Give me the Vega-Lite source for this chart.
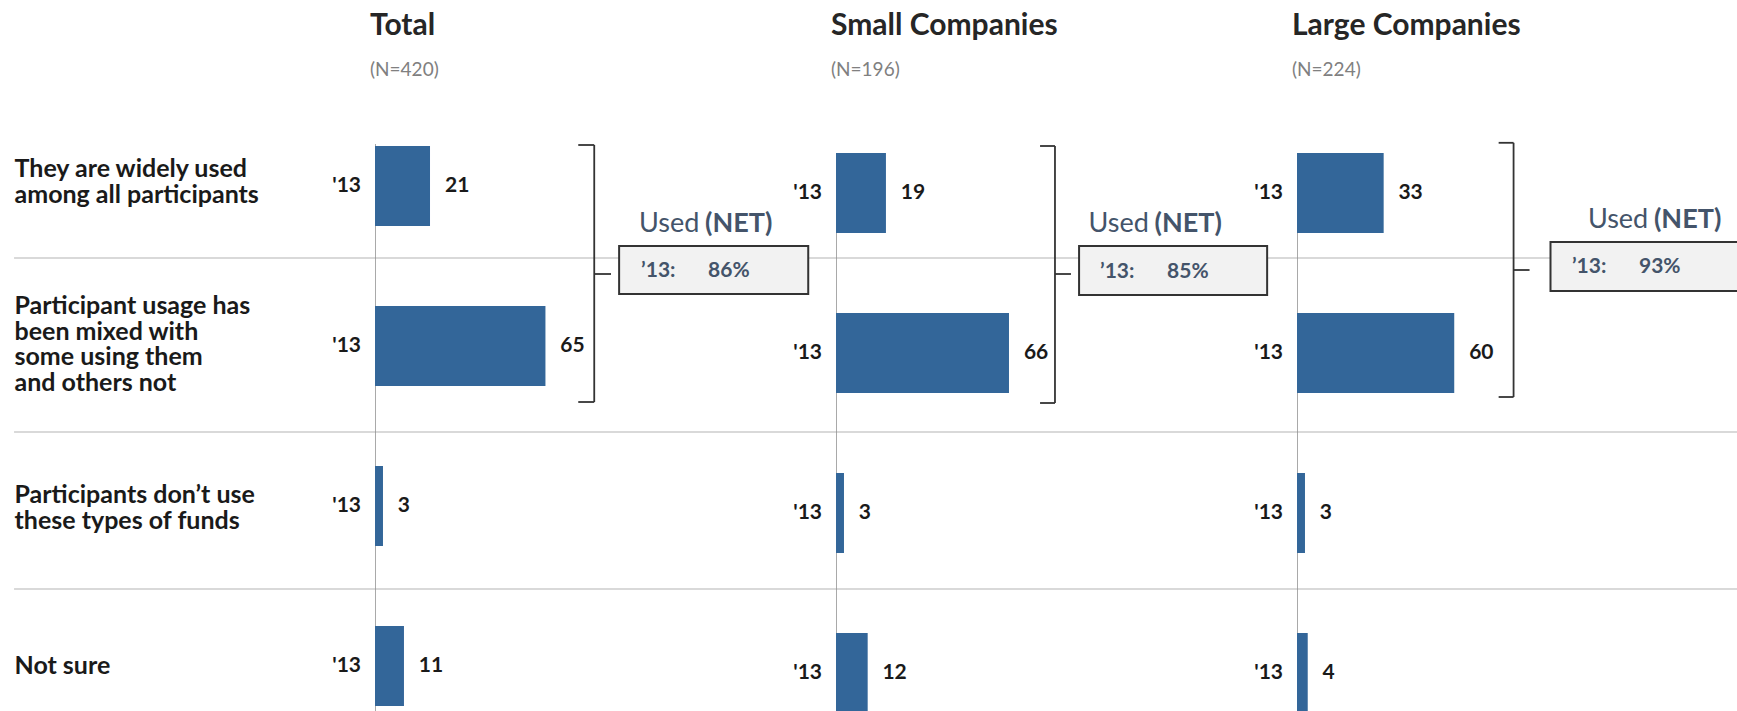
{
  "$schema": "https://vega.github.io/schema/vega-lite/v6.json",
  "background": "white",
  "autosize": {"type": "pad"},
  "padding": {"left": 13, "top": 11, "right": 0, "bottom": 0},
  "spacing": 0,
  "bounds": "flush",
  "config": {
    "view": {"stroke": null},
    "font": "Lato",
    "concat": {"spacing": 0},
    "title": {"anchor": "start", "frame": "group", "dx": -5, "fontSize": 30, "fontWeight": "bold", "color": "#262626", "subtitleFontSize": 19, "subtitleColor": "#808080", "subtitlePadding": 20, "offset": 26, "font": "Lato", "subtitleFont": "Lato"}
  },
  "datasets": {
    "bars": [
      {"panel": "Total", "label": "They are widely used|among all participants", "year": "'13", "value": 21},
      {"panel": "Total", "label": "Participant usage has|been mixed with|some using them|and others not", "year": "'13", "value": 65},
      {"panel": "Total", "label": "Participants don’t use|these types of funds", "year": "'13", "value": 3},
      {"panel": "Total", "label": "Not sure", "year": "'13", "value": 11},
      {"panel": "Small", "label": "They are widely used|among all participants", "year": "'13", "value": 19},
      {"panel": "Small", "label": "Participant usage has|been mixed with|some using them|and others not", "year": "'13", "value": 66},
      {"panel": "Small", "label": "Participants don’t use|these types of funds", "year": "'13", "value": 3},
      {"panel": "Small", "label": "Not sure", "year": "'13", "value": 12},
      {"panel": "Large", "label": "They are widely used|among all participants", "year": "'13", "value": 33},
      {"panel": "Large", "label": "Participant usage has|been mixed with|some using them|and others not", "year": "'13", "value": 60},
      {"panel": "Large", "label": "Participants don’t use|these types of funds", "year": "'13", "value": 3},
      {"panel": "Large", "label": "Not sure", "year": "'13", "value": 4}
    ],
    "nets": [
      {"panel": "Total", "year": "’13:", "net": "86%"},
      {"panel": "Small", "year": "’13:", "net": "85%"},
      {"panel": "Large", "year": "’13:", "net": "93%"}
    ]
  },
  "hconcat": [
    {
      "width": 461, "height": 605,
      "title": {"text": "Total", "subtitle": "(N=420)"},
      "layer": [
        {
          "data": {"name": "bars"},
          "transform": [{"filter": "datum.panel == 'Total'"}],
          "mark": {"type": "bar", "color": "#336699", "clip": true},
          "encoding": {
            "y": {"field": "label", "type": "nominal",
                  "scale": {"domain": ["They are widely used|among all participants", "Participant usage has|been mixed with|some using them|and others not", "Participants don’t use|these types of funds", "Not sure"], "paddingInner": 0.5, "paddingOuter": 0.140625, "align": 0.889},
                  "axis": {"title": null, "domain": false, "ticks": false, "grid": false, "labelPadding": 361, "labelAlign": "left", "labelBaseline": "middle", "labelExpr": "split(datum.label, '|')", "labelFontSize": 25, "labelFontWeight": "bold", "labelColor": "#1a1a1a", "labelLineHeight": 25.5, "labelLimit": 0, "labelFont": "Lato", "labelOverlap": false,
                           "labelOffset": {"condition": [{"test": "indexof(datum.label, 'usage') >= 0", "value": -40}, {"test": "indexof(datum.label, 'widely') >= 0", "value": -17}, {"test": "indexof(datum.label, 'funds') >= 0", "value": -11}], "value": 0}}},
            "x": {"field": "value", "type": "quantitative", "axis": null, "scale": {"domain": [0, 176], "nice": false, "zero": false}}
          }
        },
        {
          "data": {"name": "nets"},
          "transform": [{"filter": "datum.panel == 'Total'"}],
          "mark": {"type": "rule", "color": "#d9d9d9", "strokeWidth": 2},
          "encoding": {
            "y": {"datum": "Participant usage has|been mixed with|some using them|and others not", "type": "nominal", "bandPosition": -0.6},
            "x": {"datum": -137.8, "type": "quantitative", "axis": null},
            "x2": {"datum": 520.0}
          }
        },
        {
          "data": {"name": "nets"},
          "transform": [{"filter": "datum.panel == 'Total'"}],
          "mark": {"type": "rule", "color": "#d9d9d9", "strokeWidth": 2},
          "encoding": {
            "y": {"datum": "Participants don’t use|these types of funds", "type": "nominal", "bandPosition": -0.425},
            "x": {"datum": -137.8, "type": "quantitative", "axis": null},
            "x2": {"datum": 520.0}
          }
        },
        {
          "data": {"name": "nets"},
          "transform": [{"filter": "datum.panel == 'Total'"}],
          "mark": {"type": "rule", "color": "#d9d9d9", "strokeWidth": 2},
          "encoding": {
            "y": {"datum": "Not sure", "type": "nominal", "bandPosition": -0.4625},
            "x": {"datum": -137.8, "type": "quantitative", "axis": null},
            "x2": {"datum": 520.0}
          }
        },
        {
          "data": {"name": "nets"},
          "transform": [{"filter": "datum.panel == 'Total'"}],
          "mark": {"type": "rule", "color": "#8c8c8c", "strokeWidth": 1.5, "clip": true},
          "encoding": {
            "x": {"datum": 0, "type": "quantitative", "axis": null},
            "y": {"datum": "They are widely used|among all participants", "type": "nominal", "bandPosition": -0.025},
            "y2": {"datum": "Not sure", "bandPosition": 1.3}
          }
        },
        {
          "data": {"name": "bars"},
          "transform": [{"filter": "datum.panel == 'Total'"}],
          "mark": {"type": "bar", "color": "#336699", "clip": true},
          "encoding": {
            "y": {"field": "label", "type": "nominal"},
            "x": {"field": "value", "type": "quantitative", "axis": null}
          }
        },
        {
          "data": {"name": "bars"},
          "transform": [{"filter": "datum.panel == 'Total'"}],
          "mark": {"type": "text", "align": "left", "baseline": "middle", "dx": 15, "fontSize": 21, "fontWeight": "bold", "color": "#1a1a1a"},
          "encoding": {
            "y": {"field": "label", "type": "nominal"},
            "x": {"field": "value", "type": "quantitative", "axis": null},
            "text": {"field": "value", "type": "quantitative"}
          }
        },
        {
          "data": {"name": "bars"},
          "transform": [{"filter": "datum.panel == 'Total'"}],
          "mark": {"type": "text", "align": "right", "baseline": "middle", "dx": -14, "fontSize": 21, "fontWeight": "bold", "color": "#1a1a1a"},
          "encoding": {
            "y": {"field": "label", "type": "nominal"},
            "x": {"datum": 0, "type": "quantitative", "axis": null},
            "text": {"field": "year", "type": "nominal"}
          }
        },
        {
          "data": {"name": "nets"},
          "transform": [{"filter": "datum.panel == 'Total'"}],
          "mark": {"type": "rule", "color": "#333333", "strokeWidth": 1.8},
          "encoding": {
            "x": {"datum": 83.7, "type": "quantitative", "axis": null},
            "y": {"datum": "They are widely used|among all participants", "type": "nominal", "bandPosition": -0.0125},
            "y2": {"datum": "Participant usage has|been mixed with|some using them|and others not", "bandPosition": 1.2}
          }
        },
        {
          "data": {"name": "nets"},
          "transform": [{"filter": "datum.panel == 'Total'"}],
          "mark": {"type": "rule", "color": "#333333", "strokeWidth": 1.8},
          "encoding": {
            "x": {"datum": 77.6, "type": "quantitative", "axis": null},
            "x2": {"datum": 83.7},
            "y": {"datum": "They are widely used|among all participants", "type": "nominal", "bandPosition": -0.0125}
          }
        },
        {
          "data": {"name": "nets"},
          "transform": [{"filter": "datum.panel == 'Total'"}],
          "mark": {"type": "rule", "color": "#333333", "strokeWidth": 1.8},
          "encoding": {
            "x": {"datum": 77.6, "type": "quantitative", "axis": null},
            "x2": {"datum": 83.7},
            "y": {"datum": "Participant usage has|been mixed with|some using them|and others not", "type": "nominal", "bandPosition": 1.2}
          }
        },
        {
          "data": {"name": "nets"},
          "transform": [{"filter": "datum.panel == 'Total'"}],
          "mark": {"type": "rule", "color": "#333333", "strokeWidth": 1.8},
          "encoding": {
            "x": {"datum": 83.7, "type": "quantitative", "axis": null},
            "x2": {"datum": 90.1},
            "y": {"datum": "They are widely used|among all participants", "type": "nominal", "bandPosition": 1.6}
          }
        },
        {
          "data": {"name": "nets"},
          "transform": [{"filter": "datum.panel == 'Total'"}],
          "mark": {"type": "rect", "fill": "#f2f2f2", "stroke": "#333333", "strokeWidth": 2},
          "encoding": {
            "x": {"datum": 93.2, "type": "quantitative", "axis": null},
            "x2": {"datum": 165.4},
            "y": {"datum": "They are widely used|among all participants", "type": "nominal", "bandPosition": 1.25},
            "y2": {"datum": "They are widely used|among all participants", "bandPosition": 1.85}
          }
        },
        {
          "data": {"name": "nets"},
          "transform": [{"filter": "datum.panel == 'Total'"}],
          "mark": {"type": "text", "align": "left", "baseline": "middle", "fontSize": 27, "color": "#44546a"},
          "encoding": {
            "x": {"datum": 100.8, "type": "quantitative", "axis": null},
            "y": {"datum": "They are widely used|among all participants", "type": "nominal", "bandPosition": 0.975},
            "text": {"value": "Used"}
          }
        },
        {
          "data": {"name": "nets"},
          "transform": [{"filter": "datum.panel == 'Total'"}],
          "mark": {"type": "text", "align": "left", "baseline": "middle", "dx": 66, "fontSize": 27, "fontWeight": "bold", "color": "#44546a"},
          "encoding": {
            "x": {"datum": 100.8, "type": "quantitative", "axis": null},
            "y": {"datum": "They are widely used|among all participants", "type": "nominal", "bandPosition": 0.975},
            "text": {"value": "(NET)"}
          }
        },
        {
          "data": {"name": "nets"},
          "transform": [{"filter": "datum.panel == 'Total'"}],
          "mark": {"type": "text", "align": "left", "baseline": "middle", "fontSize": 21, "fontWeight": "bold", "color": "#44546a"},
          "encoding": {
            "x": {"datum": 101.6, "type": "quantitative", "axis": null},
            "y": {"datum": "They are widely used|among all participants", "type": "nominal", "bandPosition": 1.5625},
            "text": {"field": "year", "type": "nominal"}
          }
        },
        {
          "data": {"name": "nets"},
          "transform": [{"filter": "datum.panel == 'Total'"}],
          "mark": {"type": "text", "align": "left", "baseline": "middle", "dx": 67, "fontSize": 21, "fontWeight": "bold", "color": "#44546a"},
          "encoding": {
            "x": {"datum": 101.6, "type": "quantitative", "axis": null},
            "y": {"datum": "They are widely used|among all participants", "type": "nominal", "bandPosition": 1.5625},
            "text": {"field": "net", "type": "nominal"}
          }
        }
      ]
    },
    {
      "width": 461, "height": 605,
      "title": {"text": "Small Companies", "subtitle": "(N=196)"},
      "layer": [
        {
          "data": {"name": "bars"},
          "transform": [{"filter": "datum.panel == 'Small'"}],
          "mark": {"type": "bar", "color": "#336699", "clip": true, "yOffset": 7},
          "encoding": {
            "y": {"field": "label", "type": "nominal", "axis": null,
                  "scale": {"domain": ["They are widely used|among all participants", "Participant usage has|been mixed with|some using them|and others not", "Participants don’t use|these types of funds", "Not sure"], "paddingInner": 0.5, "paddingOuter": 0.140625, "align": 0.889}},
            "x": {"field": "value", "type": "quantitative", "axis": null, "scale": {"domain": [0, 176], "nice": false, "zero": false}}
          }
        },
        {
          "data": {"name": "nets"},
          "transform": [{"filter": "datum.panel == 'Small'"}],
          "mark": {"type": "rule", "color": "#8c8c8c", "strokeWidth": 1.5, "clip": true, "yOffset": 7, "y2Offset": 7},
          "encoding": {
            "x": {"datum": 0, "type": "quantitative", "axis": null},
            "y": {"datum": "They are widely used|among all participants", "type": "nominal", "bandPosition": 0, "axis": null},
            "y2": {"datum": "Not sure", "bandPosition": 1.3}
          }
        },
        {
          "data": {"name": "bars"},
          "transform": [{"filter": "datum.panel == 'Small'"}],
          "mark": {"type": "rule", "color": "#8c8c8c", "strokeWidth": 1.5, "clip": true, "yOffset": 7},
          "encoding": {
            "y": {"field": "label", "type": "nominal", "bandPosition": 0, "axis": null},
            "x": {"datum": -3, "type": "quantitative", "axis": null},
            "x2": {"datum": 0}
          }
        },
        {
          "data": {"name": "bars"},
          "transform": [{"filter": "datum.panel == 'Small'"}],
          "mark": {"type": "rule", "color": "#8c8c8c", "strokeWidth": 1.5, "clip": true, "yOffset": 7},
          "encoding": {
            "y": {"field": "label", "type": "nominal", "bandPosition": 1, "axis": null},
            "x": {"datum": -3, "type": "quantitative", "axis": null},
            "x2": {"datum": 0}
          }
        },
        {
          "data": {"name": "bars"},
          "transform": [{"filter": "datum.panel == 'Small'"}],
          "mark": {"type": "bar", "color": "#336699", "clip": true, "yOffset": 7},
          "encoding": {
            "y": {"field": "label", "type": "nominal", "axis": null},
            "x": {"field": "value", "type": "quantitative", "axis": null}
          }
        },
        {
          "data": {"name": "bars"},
          "transform": [{"filter": "datum.panel == 'Small'"}],
          "mark": {"type": "text", "align": "left", "baseline": "middle", "dx": 15, "yOffset": 7, "fontSize": 21, "fontWeight": "bold", "color": "#1a1a1a"},
          "encoding": {
            "y": {"field": "label", "type": "nominal", "axis": null},
            "x": {"field": "value", "type": "quantitative", "axis": null},
            "text": {"field": "value", "type": "quantitative"}
          }
        },
        {
          "data": {"name": "bars"},
          "transform": [{"filter": "datum.panel == 'Small'"}],
          "mark": {"type": "text", "align": "right", "baseline": "middle", "dx": -14, "yOffset": 7, "fontSize": 21, "fontWeight": "bold", "color": "#1a1a1a"},
          "encoding": {
            "y": {"field": "label", "type": "nominal", "axis": null},
            "x": {"datum": 0, "type": "quantitative", "axis": null},
            "text": {"field": "year", "type": "nominal"}
          }
        },
        {
          "data": {"name": "nets"},
          "transform": [{"filter": "datum.panel == 'Small'"}],
          "mark": {"type": "rule", "color": "#333333", "strokeWidth": 1.8},
          "encoding": {
            "x": {"datum": 83.6, "type": "quantitative", "axis": null},
            "y": {"datum": "They are widely used|among all participants", "type": "nominal", "bandPosition": 0, "axis": null},
            "y2": {"datum": "Participant usage has|been mixed with|some using them|and others not", "bandPosition": 1.2125}
          }
        },
        {
          "data": {"name": "nets"},
          "transform": [{"filter": "datum.panel == 'Small'"}],
          "mark": {"type": "rule", "color": "#333333", "strokeWidth": 1.8},
          "encoding": {
            "x": {"datum": 77.9, "type": "quantitative", "axis": null},
            "x2": {"datum": 83.6},
            "y": {"datum": "They are widely used|among all participants", "type": "nominal", "bandPosition": 0, "axis": null}
          }
        },
        {
          "data": {"name": "nets"},
          "transform": [{"filter": "datum.panel == 'Small'"}],
          "mark": {"type": "rule", "color": "#333333", "strokeWidth": 1.8},
          "encoding": {
            "x": {"datum": 77.9, "type": "quantitative", "axis": null},
            "x2": {"datum": 83.6},
            "y": {"datum": "Participant usage has|been mixed with|some using them|and others not", "type": "nominal", "bandPosition": 1.2125, "axis": null}
          }
        },
        {
          "data": {"name": "nets"},
          "transform": [{"filter": "datum.panel == 'Small'"}],
          "mark": {"type": "rule", "color": "#333333", "strokeWidth": 1.8},
          "encoding": {
            "x": {"datum": 83.6, "type": "quantitative", "axis": null},
            "x2": {"datum": 89.7},
            "y": {"datum": "They are widely used|among all participants", "type": "nominal", "bandPosition": 1.6, "axis": null}
          }
        },
        {
          "data": {"name": "nets"},
          "transform": [{"filter": "datum.panel == 'Small'"}],
          "mark": {"type": "rect", "fill": "#f2f2f2", "stroke": "#333333", "strokeWidth": 2},
          "encoding": {
            "x": {"datum": 92.8, "type": "quantitative", "axis": null},
            "x2": {"datum": 164.6},
            "y": {"datum": "They are widely used|among all participants", "type": "nominal", "bandPosition": 1.25, "axis": null},
            "y2": {"datum": "They are widely used|among all participants", "bandPosition": 1.8625}
          }
        },
        {
          "data": {"name": "nets"},
          "transform": [{"filter": "datum.panel == 'Small'"}],
          "mark": {"type": "text", "align": "left", "baseline": "middle", "fontSize": 27, "color": "#44546a"},
          "encoding": {
            "x": {"datum": 96.4, "type": "quantitative", "axis": null},
            "y": {"datum": "They are widely used|among all participants", "type": "nominal", "bandPosition": 0.975, "axis": null},
            "text": {"value": "Used"}
          }
        },
        {
          "data": {"name": "nets"},
          "transform": [{"filter": "datum.panel == 'Small'"}],
          "mark": {"type": "text", "align": "left", "baseline": "middle", "dx": 66, "fontSize": 27, "fontWeight": "bold", "color": "#44546a"},
          "encoding": {
            "x": {"datum": 96.4, "type": "quantitative", "axis": null},
            "y": {"datum": "They are widely used|among all participants", "type": "nominal", "bandPosition": 0.975, "axis": null},
            "text": {"value": "(NET)"}
          }
        },
        {
          "data": {"name": "nets"},
          "transform": [{"filter": "datum.panel == 'Small'"}],
          "mark": {"type": "text", "align": "left", "baseline": "middle", "fontSize": 21, "fontWeight": "bold", "color": "#44546a"},
          "encoding": {
            "x": {"datum": 100.8, "type": "quantitative", "axis": null},
            "y": {"datum": "They are widely used|among all participants", "type": "nominal", "bandPosition": 1.575, "axis": null},
            "text": {"field": "year", "type": "nominal"}
          }
        },
        {
          "data": {"name": "nets"},
          "transform": [{"filter": "datum.panel == 'Small'"}],
          "mark": {"type": "text", "align": "left", "baseline": "middle", "dx": 67, "fontSize": 21, "fontWeight": "bold", "color": "#44546a"},
          "encoding": {
            "x": {"datum": 100.8, "type": "quantitative", "axis": null},
            "y": {"datum": "They are widely used|among all participants", "type": "nominal", "bandPosition": 1.575, "axis": null},
            "text": {"field": "net", "type": "nominal"}
          }
        }
      ]
    },
    {
      "width": 441, "height": 605,
      "title": {"text": "Large Companies", "subtitle": "(N=224)"},
      "layer": [
        {
          "data": {"name": "bars"},
          "transform": [{"filter": "datum.panel == 'Large'"}],
          "mark": {"type": "bar", "color": "#336699", "clip": true, "yOffset": 7},
          "encoding": {
            "y": {"field": "label", "type": "nominal", "axis": null,
                  "scale": {"domain": ["They are widely used|among all participants", "Participant usage has|been mixed with|some using them|and others not", "Participants don’t use|these types of funds", "Not sure"], "paddingInner": 0.5, "paddingOuter": 0.140625, "align": 0.889}},
            "x": {"field": "value", "type": "quantitative", "axis": null, "scale": {"domain": [0, 168.4], "nice": false, "zero": false}}
          }
        },
        {
          "data": {"name": "nets"},
          "transform": [{"filter": "datum.panel == 'Large'"}],
          "mark": {"type": "rule", "color": "#8c8c8c", "strokeWidth": 1.5, "clip": true, "yOffset": 7, "y2Offset": 7},
          "encoding": {
            "x": {"datum": 0, "type": "quantitative", "axis": null},
            "y": {"datum": "They are widely used|among all participants", "type": "nominal", "bandPosition": 0, "axis": null},
            "y2": {"datum": "Not sure", "bandPosition": 1.3}
          }
        },
        {
          "data": {"name": "bars"},
          "transform": [{"filter": "datum.panel == 'Large'"}],
          "mark": {"type": "rule", "color": "#8c8c8c", "strokeWidth": 1.5, "clip": true, "yOffset": 7},
          "encoding": {
            "y": {"field": "label", "type": "nominal", "bandPosition": 0, "axis": null},
            "x": {"datum": -3, "type": "quantitative", "axis": null},
            "x2": {"datum": 0}
          }
        },
        {
          "data": {"name": "bars"},
          "transform": [{"filter": "datum.panel == 'Large'"}],
          "mark": {"type": "rule", "color": "#8c8c8c", "strokeWidth": 1.5, "clip": true, "yOffset": 7},
          "encoding": {
            "y": {"field": "label", "type": "nominal", "bandPosition": 1, "axis": null},
            "x": {"datum": -3, "type": "quantitative", "axis": null},
            "x2": {"datum": 0}
          }
        },
        {
          "data": {"name": "bars"},
          "transform": [{"filter": "datum.panel == 'Large'"}],
          "mark": {"type": "bar", "color": "#336699", "clip": true, "yOffset": 7},
          "encoding": {
            "y": {"field": "label", "type": "nominal", "axis": null},
            "x": {"field": "value", "type": "quantitative", "axis": null}
          }
        },
        {
          "data": {"name": "bars"},
          "transform": [{"filter": "datum.panel == 'Large'"}],
          "mark": {"type": "text", "align": "left", "baseline": "middle", "dx": 15, "yOffset": 7, "fontSize": 21, "fontWeight": "bold", "color": "#1a1a1a"},
          "encoding": {
            "y": {"field": "label", "type": "nominal", "axis": null},
            "x": {"field": "value", "type": "quantitative", "axis": null},
            "text": {"field": "value", "type": "quantitative"}
          }
        },
        {
          "data": {"name": "bars"},
          "transform": [{"filter": "datum.panel == 'Large'"}],
          "mark": {"type": "text", "align": "right", "baseline": "middle", "dx": -14, "yOffset": 7, "fontSize": 21, "fontWeight": "bold", "color": "#1a1a1a"},
          "encoding": {
            "y": {"field": "label", "type": "nominal", "axis": null},
            "x": {"datum": 0, "type": "quantitative", "axis": null},
            "text": {"field": "year", "type": "nominal"}
          }
        },
        {
          "data": {"name": "nets"},
          "transform": [{"filter": "datum.panel == 'Large'"}],
          "mark": {"type": "rule", "color": "#333333", "strokeWidth": 1.8},
          "encoding": {
            "x": {"datum": 82.7, "type": "quantitative", "axis": null},
            "y": {"datum": "They are widely used|among all participants", "type": "nominal", "bandPosition": -0.04, "axis": null},
            "y2": {"datum": "Participant usage has|been mixed with|some using them|and others not", "bandPosition": 1.1375}
          }
        },
        {
          "data": {"name": "nets"},
          "transform": [{"filter": "datum.panel == 'Large'"}],
          "mark": {"type": "rule", "color": "#333333", "strokeWidth": 1.8},
          "encoding": {
            "x": {"datum": 77.0, "type": "quantitative", "axis": null},
            "x2": {"datum": 82.7},
            "y": {"datum": "They are widely used|among all participants", "type": "nominal", "bandPosition": -0.04, "axis": null}
          }
        },
        {
          "data": {"name": "nets"},
          "transform": [{"filter": "datum.panel == 'Large'"}],
          "mark": {"type": "rule", "color": "#333333", "strokeWidth": 1.8},
          "encoding": {
            "x": {"datum": 77.0, "type": "quantitative", "axis": null},
            "x2": {"datum": 82.7},
            "y": {"datum": "Participant usage has|been mixed with|some using them|and others not", "type": "nominal", "bandPosition": 1.1375, "axis": null}
          }
        },
        {
          "data": {"name": "nets"},
          "transform": [{"filter": "datum.panel == 'Large'"}],
          "mark": {"type": "rule", "color": "#333333", "strokeWidth": 1.8},
          "encoding": {
            "x": {"datum": 82.7, "type": "quantitative", "axis": null},
            "x2": {"datum": 88.8},
            "y": {"datum": "They are widely used|among all participants", "type": "nominal", "bandPosition": 1.55, "axis": null}
          }
        },
        {
          "data": {"name": "nets"},
          "transform": [{"filter": "datum.panel == 'Large'"}],
          "mark": {"type": "rect", "fill": "#f2f2f2", "stroke": "#333333", "strokeWidth": 2, "clip": true},
          "encoding": {
            "x": {"datum": 96.8, "type": "quantitative", "axis": null},
            "x2": {"datum": 175},
            "y": {"datum": "They are widely used|among all participants", "type": "nominal", "bandPosition": 1.2, "axis": null},
            "y2": {"datum": "They are widely used|among all participants", "bandPosition": 1.8125}
          }
        },
        {
          "data": {"name": "nets"},
          "transform": [{"filter": "datum.panel == 'Large'"}],
          "mark": {"type": "text", "align": "left", "baseline": "middle", "fontSize": 27, "color": "#44546a"},
          "encoding": {
            "x": {"datum": 111.1, "type": "quantitative", "axis": null},
            "y": {"datum": "They are widely used|among all participants", "type": "nominal", "bandPosition": 0.925, "axis": null},
            "text": {"value": "Used"}
          }
        },
        {
          "data": {"name": "nets"},
          "transform": [{"filter": "datum.panel == 'Large'"}],
          "mark": {"type": "text", "align": "left", "baseline": "middle", "dx": 66, "fontSize": 27, "fontWeight": "bold", "color": "#44546a"},
          "encoding": {
            "x": {"datum": 111.1, "type": "quantitative", "axis": null},
            "y": {"datum": "They are widely used|among all participants", "type": "nominal", "bandPosition": 0.925, "axis": null},
            "text": {"value": "(NET)"}
          }
        },
        {
          "data": {"name": "nets"},
          "transform": [{"filter": "datum.panel == 'Large'"}],
          "mark": {"type": "text", "align": "left", "baseline": "middle", "fontSize": 21, "fontWeight": "bold", "color": "#44546a"},
          "encoding": {
            "x": {"datum": 105.0, "type": "quantitative", "axis": null},
            "y": {"datum": "They are widely used|among all participants", "type": "nominal", "bandPosition": 1.5125, "axis": null},
            "text": {"field": "year", "type": "nominal"}
          }
        },
        {
          "data": {"name": "nets"},
          "transform": [{"filter": "datum.panel == 'Large'"}],
          "mark": {"type": "text", "align": "left", "baseline": "middle", "dx": 67, "fontSize": 21, "fontWeight": "bold", "color": "#44546a"},
          "encoding": {
            "x": {"datum": 105.0, "type": "quantitative", "axis": null},
            "y": {"datum": "They are widely used|among all participants", "type": "nominal", "bandPosition": 1.5125, "axis": null},
            "text": {"field": "net", "type": "nominal"}
          }
        }
      ]
    }
  ]
}
